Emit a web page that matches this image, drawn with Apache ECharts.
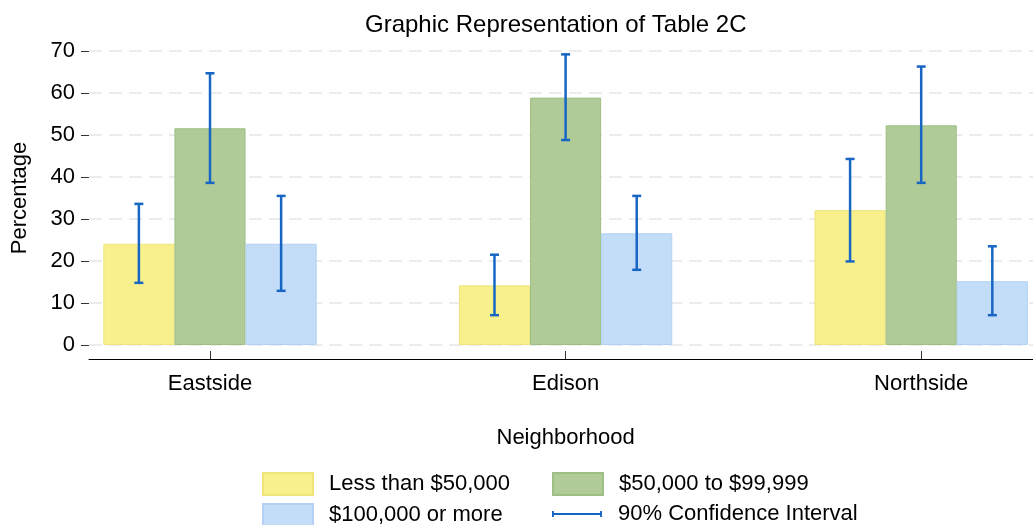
<!DOCTYPE html>
<html>
<head>
<meta charset="utf-8">
<script src="https://cdn.jsdelivr.net/npm/echarts@6/dist/echarts.min.js"></script>
<style>
  html, body { margin: 0; padding: 0; background: #fff; }
  #chart { width: 1033px; height: 525px; }
</style>
</head>
<body>
<div id="chart"></div>
<script>
// neighbourhoods
const categories = ['Eastside', 'Edison', 'Northside']
// percentage per income group
const lessThan50k = [24.1, 14.2, 32.1]
const from50kTo99k = [51.6, 58.9, 52.3]
const over100k = [24.1, 26.6, 15.2]
// 90% confidence interval bounds
const lessLow = [14.8, 7.1, 19.9]
const lessHigh = [33.6, 21.5, 44.3]
const midLow = [38.6, 48.8, 38.6]
const midHigh = [64.7, 69.2, 66.3]
const highLow = [12.9, 17.9, 7.1]
const highHigh = [35.5, 35.5, 23.5]
const yTicks = [0, 10, 20, 30, 40, 50, 60, 70]

const font = 'Liberation Sans, Arial, sans-serif'
const ciColor = '#1766c4'

// [category, low, high, group]
const ciData = []
;[[lessLow, lessHigh], [midLow, midHigh], [highLow, highHigh]].forEach(([lo, hi], g) => {
    categories.forEach((c, i) => ciData.push([i, lo[i], hi[i], g]))
})

const chart = echarts.init(document.getElementById('chart'))

const barSeries = (name, data, fill, border) => ({
    name: name,
    type: 'bar',
    xAxisIndex: 0,
    yAxisIndex: 0,
    data: data,
    barWidth: '20%',
    barGap: '0%',
    itemStyle: { color: fill, borderColor: border, borderWidth: 1 }
})

// one legend per entry so the two columns line up
const legendItem = (name, icon, left, top) => ({
    left: left,
    top: top,
    padding: 0,
    itemWidth: 50,
    itemHeight: 22,
    selectedMode: false,
    data: [{ name: name, icon: icon }],
    textStyle: { fontFamily: font, fontSize: 22, lineHeight: 22, color: '#000', padding: [0, 0, 0, 11] }
})

const option = {
    animation: false,
    textStyle: { fontFamily: font },
    title: {
        text: 'Graphic Representation of Table 2C',
        left: 360,
        top: 8,
        textStyle: { fontFamily: font, fontSize: 24, fontWeight: 'normal', color: '#000' }
    },
    legend: [
        legendItem('Less than $50,000', 'rect', 262, 472),
        legendItem('$50,000 to $99,999', 'rect', 552, 472),
        legendItem('$100,000 or more', 'rect', 262, 503),
        legendItem('90% Confidence Interval', 'path://M0,8H2V14H0Z M2,10H50V12H2Z M50,8H52V14H50Z', 552, 503)
    ],
    grid: [
        // bars / categories
        { left: 32.2, right: -66, top: 51, bottom: 180, outerBoundsMode: 'none', containLabel: false },
        // visible value axis
        { left: 89, right: 0, top: 51, bottom: 180, outerBoundsMode: 'none', containLabel: false }
    ],
    xAxis: [
        {
            gridIndex: 0,
            type: 'category',
            data: categories,
            offset: 14,
            axisLine: { show: false, onZero: false },
            axisTick: { show: true, inside: true, length: 8, alignWithLabel: true, lineStyle: { color: '#333' } },
            axisLabel: { fontFamily: font, fontSize: 22, color: '#000', margin: 14 },
            name: 'Neighborhood',
            nameLocation: 'middle',
            nameGap: 68,
            nameTextStyle: { fontFamily: font, fontSize: 22, color: '#000' }
        },
        {
            gridIndex: 1,
            type: 'value',
            min: 0,
            max: 1,
            offset: 14,
            axisLine: { show: true, onZero: false, lineStyle: { color: '#000', width: 1 } },
            axisTick: { show: false },
            axisLabel: { show: false },
            splitLine: { show: false }
        }
    ],
    yAxis: [
        { gridIndex: 0, type: 'value', min: 0, max: 70, show: false },
        {
            gridIndex: 1,
            type: 'value',
            min: yTicks[0],
            max: yTicks[yTicks.length - 1],
            interval: 10,
            axisLine: { show: false },
            axisTick: { show: true, length: 8, lineStyle: { color: '#333' } },
            axisLabel: { fontFamily: font, fontSize: 22, color: '#000', margin: 14 },
            splitLine: { show: true, lineStyle: { color: '#e6e6e6', width: 1.5, type: [13, 7] } },
            name: 'Percentage',
            nameLocation: 'middle',
            nameGap: 58,
            nameTextStyle: { fontFamily: font, fontSize: 22, color: '#000' }
        }
    ],
    series: [
        barSeries('Less than $50,000', lessThan50k, '#f8f08d', '#efe47c'),
        barSeries('$50,000 to $99,999', from50kTo99k, '#b0cb98', '#9dbf84'),
        barSeries('$100,000 or more', over100k, '#c3ddf8', '#b3d2f3'),
        {
            name: '90% Confidence Interval',
            type: 'custom',
            xAxisIndex: 0,
            yAxisIndex: 0,
            z: 5,
            itemStyle: { color: ciColor },
            encode: { x: 0, y: [1, 2] },
            data: ciData,
            renderItem: function (params, api) {
                const cat = api.value(0)
                const band = api.size([1, 0])[0]
                const top = api.coord([cat, api.value(2)])
                const bot = api.coord([cat, api.value(1)])
                const x = top[0] + (api.value(3) - 1) * band * 0.2
                const cap = 4.5
                const style = { stroke: ciColor, lineWidth: 2.5 }
                return {
                    type: 'group',
                    children: [
                        { type: 'line', shape: { x1: x, y1: top[1], x2: x, y2: bot[1] }, style: style },
                        { type: 'line', shape: { x1: x - cap, y1: top[1], x2: x + cap, y2: top[1] }, style: style },
                        { type: 'line', shape: { x1: x - cap, y1: bot[1], x2: x + cap, y2: bot[1] }, style: style }
                    ]
                }
            }
        }
    ]
}

chart.setOption(option)
</script>
</body>
</html>
